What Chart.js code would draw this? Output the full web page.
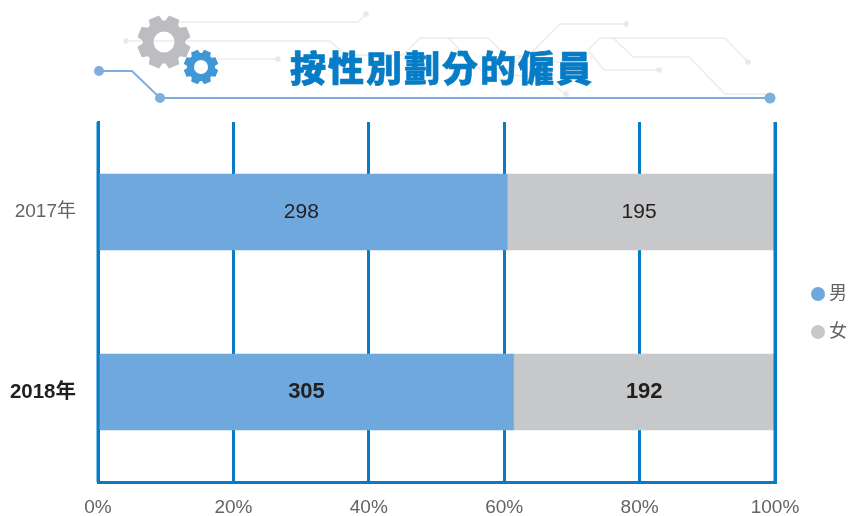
<!DOCTYPE html>
<html>
<head>
<meta charset="utf-8">
<title>按性別劃分的僱員</title>
<script src="https://cdn.jsdelivr.net/npm/chart.js@4"></script>
<style>
    html, body { margin: 0; padding: 0; background: #fff; }
    canvas { display: block; }
</style>
</head>
<body>
<canvas id="grafico" width="850" height="516"></canvas>
<script>
var categorias = ['2017年', '2018年'];
var hombres = [298, 305];
var mujeres = [195, 192];
var nombresSeries = ['男', '女'];
var etiquetasX = ['0%', '20%', '40%', '60%', '80%', '100%'];
var titulo = '按性別劃分的僱員';

var AZUL_EJE = '#077cc6';
var COLOR_H = '#6fa8dc';
var COLOR_M = '#c7c8ca';
var GRIS_TEXTO = '#636466';
var FUENTE = '"Liberation Sans", "Noto Sans CJK TC", sans-serif';

function porcentajes(serie, otra) {
    return serie.map((v, i) => v / (v + otra[i]) * 100);
}

function linea(ctx, puntos) {
    ctx.beginPath();
    puntos.forEach((p, i) => i ? ctx.lineTo(p[0], p[1]) : ctx.moveTo(p[0], p[1]));
    ctx.stroke();
}

function punto(ctx, x, y, r, color) {
    ctx.fillStyle = color;
    ctx.beginPath();
    ctx.arc(x, y, r, 0, Math.PI * 2);
    ctx.fill();
}

function engranaje(ctx, cx, cy, rExt, rBase, rHueco, color) {
    var dientes = 8;
    var paso = Math.PI * 2 / dientes;
    ctx.fillStyle = color;
    ctx.beginPath();
    for (var i = 0; i < dientes; i++) {
        var a = i * paso + paso / 2;
        [[-0.32, rBase], [-0.2, rExt], [0.2, rExt], [0.32, rBase]].forEach(p => {
            var ang = a + p[0] * paso * 1.3;
            ctx.lineTo(cx + Math.cos(ang) * p[1], cy + Math.sin(ang) * p[1]);
        });
    }
    ctx.closePath();
    ctx.moveTo(cx + rHueco, cy);
    ctx.arc(cx, cy, rHueco, 0, Math.PI * 2, true);
    ctx.fill('evenodd');
}

// decoracion de la cabecera: circuitos, engranajes y titulo
var pluginCabecera = {
    id: 'cabecera',
    beforeDraw(chart) {
        var ctx = chart.ctx;
        ctx.save();
        ctx.lineWidth = 1.5;
        ctx.strokeStyle = '#ececed';
        linea(ctx, [[150, 22], [358, 22], [366, 14]]);
        linea(ctx, [[126, 41], [330, 41], [345, 55], [403, 55], [420, 38], [488, 38], [507, 56], [530, 56]]);
        linea(ctx, [[448, 38], [483, 72], [543, 78], [566, 94]]);
        linea(ctx, [[217, 59], [278, 59]]);
        linea(ctx, [[626, 24], [560, 24], [532, 52], [510, 62], [588, 62]]);
        linea(ctx, [[588, 50], [600, 38], [725, 38], [748, 62]]);
        linea(ctx, [[613, 38], [633, 57], [689, 57], [725, 94], [765, 94]]);
        linea(ctx, [[588, 50], [604, 70], [659, 70]]);
        [[366, 14], [126, 41], [278, 59], [626, 24], [659, 70], [748, 62], [566, 94]].forEach(p => {
            punto(ctx, p[0], p[1], 2.8, '#e9e9ea');
        });

        engranaje(ctx, 164, 42, 27, 21.5, 10.5, '#bcbdc0');
        engranaje(ctx, 201, 67, 17.5, 14, 7, '#3f97d5');

        ctx.lineWidth = 2;
        ctx.strokeStyle = '#7eaedd';
        linea(ctx, [[99, 71], [132, 71], [160, 98], [770, 98]]);
        punto(ctx, 99, 71, 5, '#7eaedd');
        punto(ctx, 160, 98, 5, '#7eaedd');
        punto(ctx, 770, 98, 5.5, '#7eaedd');

        ctx.fillStyle = AZUL_EJE;
        ctx.strokeStyle = AZUL_EJE;
        ctx.lineWidth = 0.6;
        ctx.lineJoin = 'round';
        ctx.font = '900 36px "Noto Sans CJK TC", sans-serif';
        ctx.letterSpacing = '2px';
        ctx.textAlign = 'left';
        ctx.textBaseline = 'middle';
        ctx.fillText(titulo, 290, 68);
        ctx.strokeText(titulo, 290, 68);
        ctx.restore();
    }
};

// numeros dentro de las barras, lineas extremas por encima y leyenda
var pluginEtiquetas = {
    id: 'etiquetas',
    afterDatasetsDraw(chart) {
        var ctx = chart.ctx;
        var area = chart.chartArea;
        var ejeX = chart.scales.x;
        ctx.save();

        ctx.strokeStyle = AZUL_EJE;
        ctx.lineWidth = 3;
        [ejeX.min, ejeX.max].forEach(v => {
            var x = ejeX.getPixelForValue(v);
            linea(ctx, [[x, area.top], [x, area.bottom]]);
        });

        ctx.textAlign = 'center';
        ctx.textBaseline = 'middle';
        ctx.fillStyle = '#231f20';
        [hombres, mujeres].forEach((serie, s) => {
            chart.getDatasetMeta(s).data.forEach((barra, i) => {
                var p = barra.getProps(['x', 'y', 'base'], true);
                var dx = i === 1 ? 0 : -2;
                ctx.font = i === 1 ? 'bold 22px ' + FUENTE : '21px ' + FUENTE;
                ctx.fillText(serie[i], (p.x + p.base) / 2 + dx, p.y);
            });
        });

        ctx.textAlign = 'left';
        ctx.font = '18px ' + FUENTE;
        chart.data.datasets.forEach((d, i) => {
            var y = 294 + i * 38;
            punto(ctx, 818, y, 7, d.backgroundColor);
            ctx.fillStyle = GRIS_TEXTO;
            ctx.fillText(nombresSeries[i], 829, y);
        });
        ctx.restore();
    }
};

new Chart(document.getElementById('grafico').getContext('2d'), {
    type: 'bar',
    data: {
        labels: categorias,
        datasets: [
            {
                label: nombresSeries[0],
                data: porcentajes(hombres, mujeres),
                backgroundColor: COLOR_H,
                barThickness: 76
            },
            {
                label: nombresSeries[1],
                data: porcentajes(mujeres, hombres),
                backgroundColor: COLOR_M,
                barThickness: 76
            }
        ]
    },
    options: {
        indexAxis: 'y',
        responsive: false,
        animation: false,
        layout: { padding: { top: 122, right: 75, bottom: 0, left: 0 } },
        plugins: {
            legend: { display: false },
            title: { display: false },
            tooltip: { enabled: false }
        },
        scales: {
            x: {
                stacked: true,
                min: 0,
                max: 100,
                afterFit(eje) { eje.height = 34; },
                grid: { color: AZUL_EJE, lineWidth: 3, drawTicks: false },
                border: { color: AZUL_EJE, width: 3 },
                ticks: {
                    stepSize: 20,
                    padding: 14,
                    maxRotation: 0,
                    color: GRIS_TEXTO,
                    font: { size: 19, family: FUENTE },
                    callback: (v, i) => etiquetasX[i]
                }
            },
            y: {
                stacked: true,
                afterFit(eje) { eje.width = 98; },
                grid: { display: false, drawTicks: false },
                border: { color: AZUL_EJE, width: 3 },
                ticks: {
                    padding: 22,
                    color: c => c.index === 1 ? '#231f20' : GRIS_TEXTO,
                    font: c => ({
                        size: c.index === 1 ? 20.5 : 19,
                        family: FUENTE,
                        weight: c.index === 1 ? 'bold' : 'normal'
                    })
                }
            }
        }
    },
    plugins: [pluginCabecera, pluginEtiquetas]
});
</script>
</body>
</html>
